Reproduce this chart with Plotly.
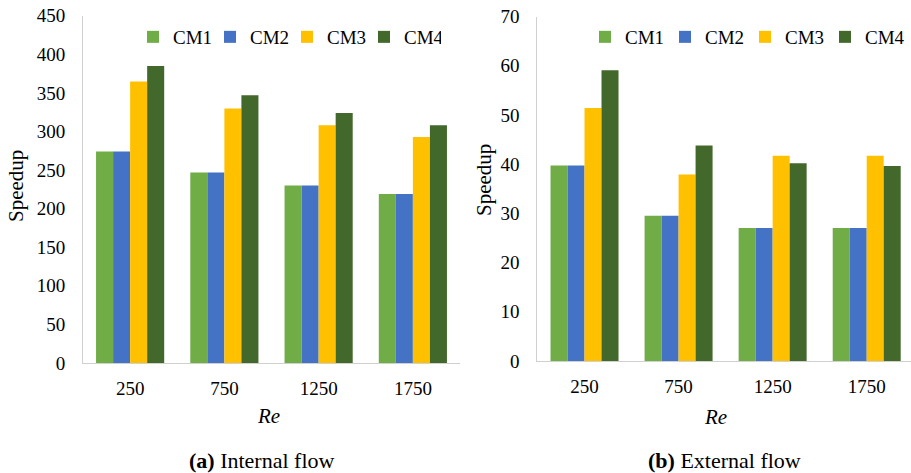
import plotly.graph_objects as go

categories = ["250", "750", "1250", "1750"]
series_names = ["CM1", "CM2", "CM3", "CM4"]
colors = ["#70AD47", "#4472C4", "#FFC000", "#43682B"]

internal_cm1 = [274, 247, 230, 219]
internal_cm2 = [274, 247, 230, 219]
internal_cm3 = [365, 330, 308, 293]
internal_cm4 = [385, 347, 324, 308]

external_cm1 = [39.7, 29.5, 27.0, 27.0]
external_cm2 = [39.7, 29.5, 27.0, 27.0]
external_cm3 = [51.4, 37.9, 41.7, 41.7]
external_cm4 = [59.1, 43.8, 40.2, 39.6]

internal = [internal_cm1, internal_cm2, internal_cm3, internal_cm4]
external = [external_cm1, external_cm2, external_cm3, external_cm4]

FONT = "Liberation Serif, Times New Roman, serif"
W, H = 911, 473

fig = go.Figure()
for name, col, vals in zip(series_names, colors, internal):
    fig.add_trace(go.Bar(x=categories, y=vals, name=name, marker_color=col,
                         marker_line_width=0, xaxis="x", yaxis="y", legend="legend"))
for name, col, vals in zip(series_names, colors, external):
    fig.add_trace(go.Bar(x=categories, y=vals, name=name, marker_color=col,
                         marker_line_width=0, xaxis="x2", yaxis="y2", legend="legend2"))

axis_line = "#d0d0d0"
common_x = dict(type="category", showgrid=False, zeroline=False, showline=True,
                linecolor=axis_line, linewidth=1, ticks="", automargin=False,
                tickfont=dict(family=FONT, size=19, color="#000"), ticklabelstandoff=8)
common_y = dict(showgrid=False, zeroline=False, showline=True, linecolor=axis_line,
                linewidth=1, ticks="", automargin=False,
                tickfont=dict(family=FONT, size=19, color="#000"),
                ticklabelstandoff=13)

fig.update_layout(
    width=W, height=H,
    margin=dict(l=0, r=0, t=0, b=0, autoexpand=False),
    paper_bgcolor="white", plot_bgcolor="white",
    barmode="group", bargap=0.277, bargroupgap=0,
    font=dict(family=FONT, size=19, color="#000"),
    xaxis=dict(domain=[83 / W, 460 / W], range=[-0.5, 3.5], anchor="y", **common_x),
    yaxis=dict(domain=[1 - 363 / H, 1 - 15.8 / H], range=[0, 450], dtick=50, anchor="x", **common_y),
    xaxis2=dict(domain=[537.3 / W, 1.0], range=[-0.502, 3.471], anchor="y2", **common_x),
    yaxis2=dict(domain=[1 - 361 / H, 1 - 16.5 / H], range=[0, 70], dtick=10, anchor="x2", **common_y),
    legend=dict(orientation="h", x=133 / W, y=1 - 37 / H, xanchor="left", yanchor="middle",
                entrywidth=32, font=dict(family=FONT, size=19, color="#000"),
                bgcolor="rgba(0,0,0,0)", borderwidth=0),
    legend2=dict(orientation="h", x=585 / W, y=1 - 37 / H, xanchor="left", yanchor="middle",
                 entrywidth=35, font=dict(family=FONT, size=19, color="#000"),
                 bgcolor="rgba(0,0,0,0)", borderwidth=0),
    showlegend=True,
)

annotations = [
    dict(text="Speedup", x=16 / W, y=1 - 186 / H, textangle=-90, font=dict(size=21)),
    dict(text="Speedup", x=484 / W, y=1 - 180 / H, textangle=-90, font=dict(size=21)),
    dict(text="<i>Re</i>", x=268 / W, y=1 - 416 / H, font=dict(size=21)),
    dict(text="<i>Re</i>", x=715 / W, y=1 - 417 / H, font=dict(size=21)),
    dict(text="<b>(a)</b> Internal flow", x=262 / W, y=1 - 460 / H, font=dict(size=22)),
    dict(text="<b>(b)</b> External flow", x=724 / W, y=1 - 460 / H, font=dict(size=22)),
]
for a in annotations:
    a.update(xref="paper", yref="paper", showarrow=False, xanchor="center", yanchor="middle")
    a["font"].update(family=FONT, color="#000")
    fig.add_annotation(**a)

fig.write_html("out.html")
